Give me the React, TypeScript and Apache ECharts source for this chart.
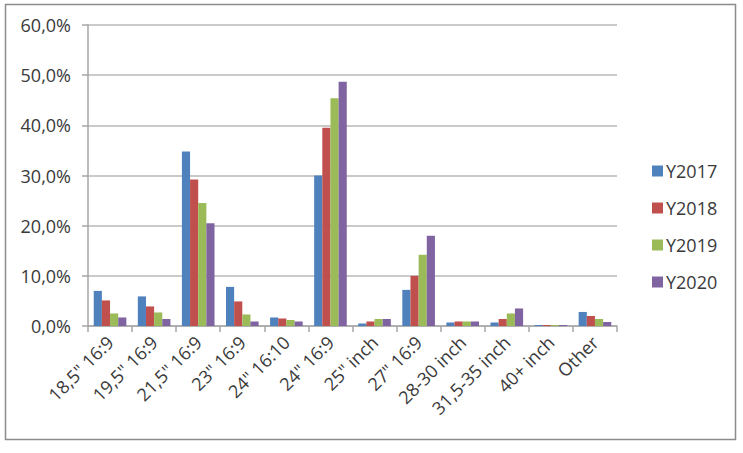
import React, { useEffect, useRef } from "react";
import * as echarts from "echarts";

const categories = [
  '18,5" 16:9',
  '19,5" 16:9',
  '21,5" 16:9',
  '23" 16:9',
  '24" 16:10',
  '24" 16:9',
  '25" inch',
  '27" 16:9',
  "28-30 inch",
  "31,5-35 inch",
  "40+ inch",
  "Other",
];
const seriesNames = ["Y2017", "Y2018", "Y2019", "Y2020"];
const y2017 = [7.0, 5.9, 34.8, 7.8, 1.7, 30.0, 0.5, 7.2, 0.7, 0.7, 0.2, 2.8];
const y2018 = [5.1, 3.9, 29.2, 4.9, 1.5, 39.5, 0.9, 10.0, 0.9, 1.4, 0.2, 2.0];
const y2019 = [2.5, 2.7, 24.5, 2.3, 1.2, 45.4, 1.4, 14.2, 0.9, 2.5, 0.2, 1.4];
const y2020 = [1.7, 1.4, 20.5, 0.9, 0.9, 48.7, 1.4, 18.0, 0.9, 3.5, 0.2, 0.8];
const colors = ["#4F81BD", "#C0504D", "#9BBB59", "#8064A2"];
const yTicks = { min: 0, max: 60, interval: 10 };

export default function App() {
  const ref = useRef<HTMLDivElement>(null);
  useEffect(() => {
    if (!ref.current) return;
    const chart = echarts.init(ref.current, undefined, { renderer: "svg" });
    const data = [y2017, y2018, y2019, y2020];
    const font = "'Open Sans', sans-serif";
    const textColor = "#3a3a3a";
    chart.setOption({
      animation: false,
      backgroundColor: "#ffffff",
      textStyle: { fontFamily: font },
      graphic: [
        {
          type: "rect",
          shape: { x: 5.5, y: 4.5, width: 730, height: 435 },
          style: { fill: "none", stroke: "#8c8c8c", lineWidth: 1.5 },
          silent: true,
        },
      ],
      grid: { left: 88, right: 126, top: 25, bottom: 127, containLabel: false },
      legend: {
        orient: "vertical",
        left: 647,
        top: 157,
        itemWidth: 11,
        itemHeight: 11,
        itemGap: 19,
        icon: "rect",
        data: seriesNames,
        textStyle: { fontSize: 18, color: textColor, fontFamily: font, lineHeight: 18, padding: [0, 0, 0, -2] },
      },
      xAxis: {
        type: "category",
        data: categories,
        axisLine: { lineStyle: { color: "#a6a6a6", width: 1.5 } },
        axisTick: { show: true, alignWithLabel: false, length: 6, lineStyle: { color: "#a6a6a6", width: 1.5 } },
        axisLabel: {
          rotate: 45,
          interval: 0,
          fontSize: 18,
          color: textColor,
          fontFamily: font,
          margin: 13,
        },
      },
      yAxis: {
        type: "value",
        min: yTicks.min,
        max: yTicks.max,
        interval: yTicks.interval,
        axisLine: { show: true, lineStyle: { color: "#a6a6a6", width: 1.5 } },
        axisTick: { show: true, length: 6, lineStyle: { color: "#a6a6a6", width: 1.5 } },
        splitLine: { lineStyle: { color: "#b8b8b8", width: 1.5 } },
        axisLabel: {
          fontSize: 18,
          color: textColor,
          fontFamily: font,
          margin: 17,
          formatter: (v: number) => v.toFixed(1).replace(".", ",") + "%",
        },
      },
      series: seriesNames.map((name, i) => ({
        name,
        type: "bar",
        data: data[i],
        itemStyle: { color: colors[i] },
        barGap: "0%",
        barCategoryGap: "26%",
      })),
    });
    return () => chart.dispose();
  }, []);
  return (
    <div
      ref={ref}
      style={{ position: "fixed", left: 0, top: 0, width: 743, height: 453 }}
    />
  );
}
